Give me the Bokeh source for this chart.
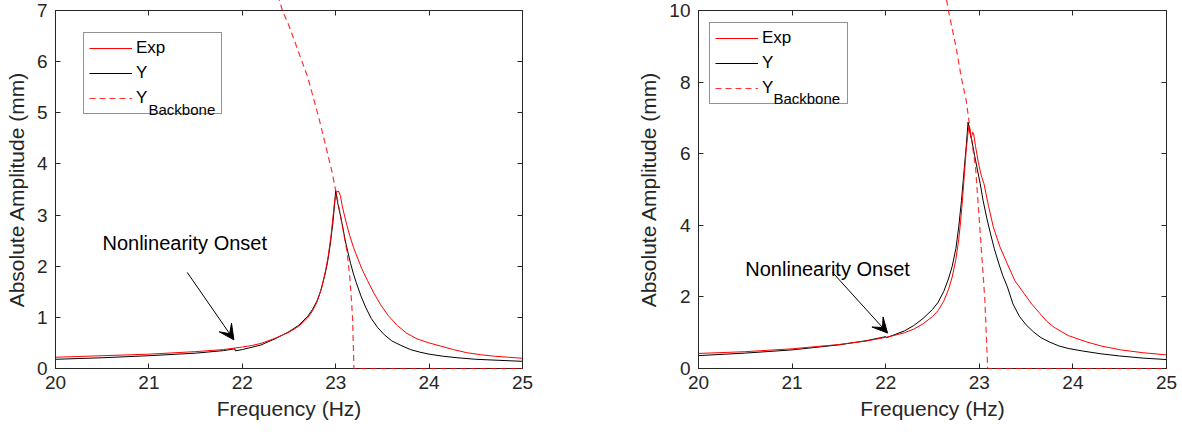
from bokeh.plotting import figure
from bokeh.layouts import row
from bokeh.models import (Range1d, FixedTicker, LinearAxis, Legend, LegendItem,
                          Label, Arrow, VeeHead)
from bokeh.embed import file_html
from bokeh.resources import INLINE

# ---------------- data ----------------
x_ticks = [20, 21, 22, 23, 24, 25]
y_ticks_a = [0, 1, 2, 3, 4, 5, 6, 7]
y_ticks_b = [0, 2, 4, 6, 8, 10]

# Left panel
a_exp_f = [20.0, 20.5, 21.0, 21.5, 21.8, 21.92, 22.0, 22.1, 22.2, 22.35, 22.5, 22.6, 22.7,
           22.75, 22.8, 22.85, 22.89, 22.92, 22.95, 22.97, 22.99, 23.01, 23.03, 23.05,
           23.07, 23.09, 23.12, 23.15, 23.19, 23.23, 23.28, 23.34, 23.41, 23.48, 23.56,
           23.66, 23.76, 23.87, 24.0, 24.12, 24.26, 24.4, 24.55, 24.7, 24.85, 25.0]
a_exp_y = [0.22, 0.25, 0.28, 0.33, 0.37, 0.40, 0.42, 0.45, 0.49, 0.59, 0.71, 0.82, 0.99,
           1.12, 1.3, 1.58, 1.9, 2.2, 2.6, 2.95, 3.3, 3.45, 3.47, 3.38,
           3.18, 3.02, 2.8, 2.6, 2.37, 2.18, 1.95, 1.72, 1.47, 1.25, 1.04,
           0.84, 0.69, 0.58, 0.5, 0.44, 0.37, 0.31, 0.27, 0.24, 0.22, 0.2]

a_y_f = [20.0, 20.5, 21.0, 21.5, 21.8, 21.92, 21.925, 22.0, 22.2, 22.35, 22.5, 22.6, 22.7,
         22.75, 22.8, 22.84, 22.88, 22.91, 22.94, 22.97, 22.99, 23.0, 23.02, 23.05, 23.08,
         23.1, 23.13, 23.16, 23.19, 23.22, 23.27, 23.32, 23.38, 23.45, 23.52, 23.6, 23.7,
         23.8, 23.9, 24.0, 24.15, 24.3, 24.5, 24.75, 25.0]
a_y_y = [0.18, 0.21, 0.25, 0.30, 0.35, 0.385, 0.345, 0.37, 0.46, 0.58, 0.72, 0.84, 1.02,
         1.15, 1.32, 1.52, 1.8, 2.05, 2.4, 2.85, 3.25, 3.48, 3.25, 3.0, 2.72,
         2.52, 2.28, 2.05, 1.85, 1.68, 1.42, 1.2, 0.98, 0.8, 0.66, 0.54, 0.45,
         0.37, 0.32, 0.28, 0.24, 0.21, 0.18, 0.16, 0.14]

a_bb_f = [22.38, 22.43, 22.5, 22.6, 22.7, 22.82, 22.9, 22.96, 23.0, 23.05, 23.09, 23.12,
          23.15, 23.17, 23.18, 23.19, 23.195, 25.0]
a_bb_y = [7.3, 7.0, 6.7, 6.2, 5.7, 4.9, 4.3, 3.85, 3.48, 3.0, 2.6, 2.3,
          1.8, 1.3, 1.0, 0.4, 0.0, 0.0]

# Right panel
b_exp_f = [20.0, 20.5, 21.0, 21.5, 21.8, 22.0, 22.1, 22.2, 22.3, 22.4, 22.5, 22.56, 22.62,
           22.67, 22.71, 22.75, 22.78, 22.8, 22.82, 22.84, 22.86, 22.88, 22.89, 22.9,
           22.91, 22.92, 22.93, 22.94, 22.96, 22.99, 23.02, 23.05, 23.1, 23.15, 23.22,
           23.3, 23.38, 23.48, 23.56, 23.65, 23.72, 23.8, 23.95, 24.15, 24.3, 24.51,
           24.75, 25.0]
b_exp_y = [0.42, 0.47, 0.55, 0.67, 0.77, 0.87, 0.93, 1.0, 1.1, 1.25, 1.45, 1.62, 1.88,
           2.2, 2.55, 3.05, 3.6, 4.1, 4.7, 5.4, 6.1, 6.6, 6.79, 6.6,
           6.45, 6.5, 6.6, 6.55, 6.2, 5.75, 5.4, 5.16, 4.52, 3.95, 3.4,
           2.92, 2.45, 2.09, 1.8, 1.53, 1.32, 1.15, 0.92, 0.74, 0.63, 0.52,
           0.44, 0.38]

b_y_f = [20.0, 20.5, 21.0, 21.5, 21.8, 22.0, 22.01, 22.1, 22.2, 22.3, 22.4, 22.5, 22.56,
         22.62, 22.67, 22.71, 22.75, 22.78, 22.81, 22.84, 22.86, 22.88, 22.89, 22.9,
         22.92, 22.95, 22.98, 23.01, 23.04, 23.08, 23.12, 23.16, 23.2, 23.25, 23.3,
         23.36, 23.43, 23.5, 23.58, 23.66, 23.75, 23.85, 23.95, 24.1, 24.3, 24.5,
         24.75, 25.0]
b_y_y = [0.36, 0.43, 0.52, 0.66, 0.78, 0.89, 0.86, 0.95, 1.05, 1.2, 1.4, 1.65, 1.85,
         2.15, 2.5, 2.85, 3.35, 3.95, 4.7, 5.6, 6.2, 6.88, 6.75, 6.6,
         6.37, 5.95, 5.55, 5.16, 4.7, 4.2, 3.76, 3.35, 3.0, 2.6, 2.28,
         1.8, 1.45, 1.22, 1.02, 0.86, 0.74, 0.63, 0.56, 0.49, 0.41, 0.35,
         0.29, 0.25]

b_bb_f = [22.65, 22.67, 22.75, 22.81, 22.86, 22.89, 22.96, 23.01, 23.06, 23.08, 23.09, 25.0]
b_bb_y = [10.3, 10.0, 9.0, 8.1, 7.49, 6.9, 5.62, 3.77, 1.9, 0.6, 0.0, 0.0]

# ---------------- styling ----------------
FONT = "Liberation Sans"
AX = "#262626"
RED = "#ff0000"


def panel(width, border_left, border_right, ymax, yticks, exp_f, exp_y, y_f, y_y,
          bb_f, bb_y, legend_loc, sub_xy, note_xy, arrow_xy):
    p = figure(width=width, height=435, output_backend="svg", toolbar_location=None,
               x_range=Range1d(20, 25), y_range=Range1d(0, ymax),
               min_border_left=border_left, min_border_right=border_right,
               min_border_top=10, min_border_bottom=67)
    p.xgrid.visible = False
    p.ygrid.visible = False
    p.outline_line_color = AX
    p.outline_line_width = 1
    p.background_fill_color = "white"
    p.border_fill_color = "white"

    for ax, ticks in ((p.xaxis[0], x_ticks), (p.yaxis[0], yticks)):
        ax.ticker = FixedTicker(ticks=ticks)
        ax.axis_line_color = AX
        ax.major_tick_line_color = AX
        ax.major_tick_in = 5
        ax.major_tick_out = 0
        ax.minor_tick_line_color = None
        ax.major_label_text_font = FONT
        ax.major_label_text_font_size = "19px"
        ax.major_label_text_color = AX
        ax.axis_label_text_font = FONT
        ax.axis_label_text_font_size = "21px"
        ax.axis_label_text_font_style = "normal"
        ax.axis_label_text_color = AX
    p.xaxis[0].axis_label = "Frequency (Hz)"
    p.yaxis[0].axis_label = "Absolute Amplitude (mm)"
    p.xaxis[0].major_label_standoff = 7
    p.xaxis[0].axis_label_standoff = 5
    p.yaxis[0].major_label_standoff = 8
    p.yaxis[0].axis_label_standoff = 6

    # box ticks on top and right (MATLAB "box on")
    for side, ticks in (("above", x_ticks), ("right", yticks)):
        ax = LinearAxis(ticker=FixedTicker(ticks=ticks))
        ax.axis_line_color = AX
        ax.major_tick_line_color = AX
        ax.major_tick_in = 5
        ax.major_tick_out = 0
        ax.minor_tick_line_color = None
        ax.major_label_text_font_size = "0px"
        ax.major_label_text_color = None
        ax.major_label_standoff = 0
        p.add_layout(ax, side)

    r_bb = p.line(bb_f, bb_y, line_color=RED, line_width=1.2, line_dash="6 4",
                  line_alpha=0.8, level="overlay")
    r_y = p.line(y_f, y_y, line_color="black", line_width=1)
    r_exp = p.line(exp_f, exp_y, line_color=RED, line_width=1)

    legend = Legend(items=[LegendItem(label="Exp", renderers=[r_exp]),
                           LegendItem(label="Y", renderers=[r_y]),
                           LegendItem(label="Y", renderers=[r_bb])],
                    location=legend_loc, orientation="vertical",
                    glyph_width=43, glyph_height=20, label_standoff=4,
                    label_width=80, label_height=20, padding=5, spacing=5, margin=0,
                    label_text_font=FONT, label_text_font_size="17px",
                    label_text_color="black",
                    border_line_color=AX, border_line_width=1,
                    background_fill_alpha=0)
    p.add_layout(legend, "center")
    p.add_layout(Label(x=sub_xy[0], y=sub_xy[1], text="Backbone", text_font=FONT,
                       text_font_size="15px", text_color="black",
                       text_baseline="alphabetic", text_align="left", level="overlay"))

    p.add_layout(Label(x=note_xy[0], y=note_xy[1], text="Nonlinearity Onset",
                       text_font=FONT, text_font_size="20px", text_color="black",
                       text_baseline="middle", text_align="left"))
    p.add_layout(Arrow(x_start=arrow_xy[0], y_start=arrow_xy[1],
                       x_end=arrow_xy[2], y_end=arrow_xy[3],
                       line_color="black", line_width=1,
                       end=VeeHead(size=15, fill_color="black", line_color="black")))
    return p


left = panel(590, 55, 68, 7, y_ticks_a, a_exp_f, a_exp_y, a_y_f, a_y_y, a_bb_f, a_bb_y,
             (28, 254), (20.996, 5.065), (20.503, 2.46), (21.41, 1.88, 21.91, 0.56))
right = panel(592, 108, 16, 10, y_ticks_b, b_exp_f, b_exp_y, b_y_f, b_y_y, b_bb_f, b_bb_y,
              (11, 264), (20.80, 7.54), (20.50, 2.79), (21.43, 2.69, 22.02, 0.99))

layout = row(left, right)
open("out.html", "w").write(file_html(layout, INLINE))
